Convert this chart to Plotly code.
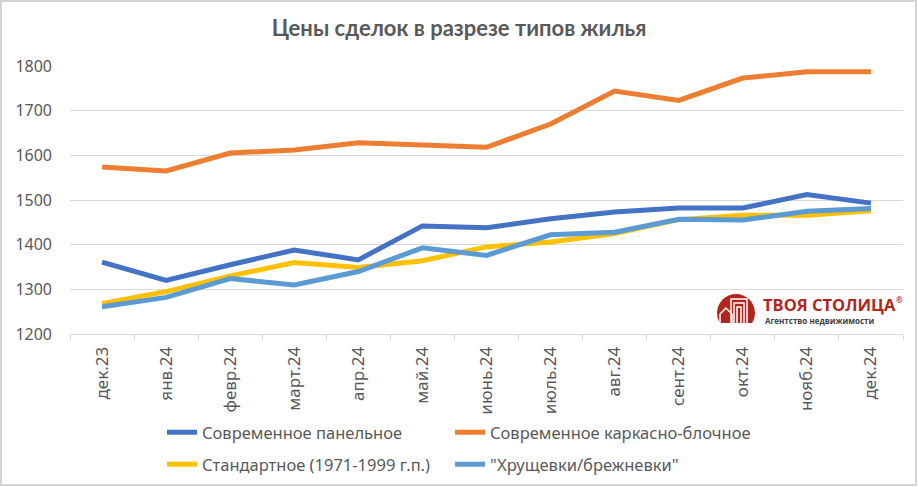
import plotly.graph_objects as go

months = ["дек.23", "янв.24", "февр.24", "март.24", "апр.24", "май.24", "июнь.24",
          "июль.24", "авг.24", "сент.24", "окт.24", "нояб.24", "дек.24"]

panel = [1361, 1320, 1355, 1388, 1366, 1442, 1438, 1458, 1473, 1482, 1482, 1512, 1493]
frame_block = [1574, 1565, 1605, 1612, 1628, 1623, 1618, 1670, 1744, 1723, 1773, 1787, 1787]
standard = [1268, 1295, 1330, 1360, 1349, 1364, 1395, 1406, 1425, 1456, 1466, 1466, 1476]
khrush = [1261, 1282, 1324, 1310, 1340, 1393, 1376, 1422, 1428, 1457, 1455, 1475, 1481]

names = ["Современное панельное", "Современное каркасно-блочное",
         "Стандартное (1971-1999 г.п.)", "\"Хрущевки/брежневки\""]
colors = ["#4472C4", "#ED7D31", "#FFC000", "#5B9BD5"]
series = [panel, frame_block, standard, khrush]
legend_ids = ["legend", "legend2", "legend3", "legend4"]

W, H = 918, 487
L, R, T, B = 70, 15, 66, 153
pw, ph = W - L - R, H - T - B

def px(x):
    return (x - L) / pw

def py(y):
    return (H - B - y) / ph

fig = go.Figure()
for n, c, s, lg in zip(names, colors, series, legend_ids):
    fig.add_trace(go.Scatter(x=months, y=s, name=n, mode="lines", legend=lg,
                             line=dict(color=c, width=5)))

font_main = "Noto Sans"
leg_common = dict(orientation="h", xanchor="left", yanchor="top",
                  font=dict(family=font_main, size=16.5, color="#595959"),
                  itemwidth=30, bgcolor="rgba(0,0,0,0)")
col1, col2 = 162, 450
row1, row2 = 415, 447
fig.update_layout(
    width=W, height=H,
    margin=dict(l=L, r=R, t=T, b=B, autoexpand=False),
    paper_bgcolor="white", plot_bgcolor="white",
    title=dict(text="<b>Цены сделок в разрезе типов жилья</b>", x=0.5, xanchor="center",
               y=1 - 28 / H, yanchor="middle",
               font=dict(family="Lato", size=22, color="#595959")),
    xaxis=dict(type="category", range=[-0.5, 12.5], showgrid=False, showline=True,
               linecolor="#D9D9D9", linewidth=1, ticks="outside", tickson="boundaries",
               ticklen=5, tickcolor="#D9D9D9", tickangle=-90, ticklabelstandoff=5,
               tickfont=dict(family=font_main, size=17, color="#595959")),
    yaxis=dict(range=[1200, 1800], dtick=100, showgrid=True, gridcolor="#D9D9D9",
               gridwidth=1, zeroline=False, showline=False, ticks="",
               ticklabelstandoff=17,
               tickfont=dict(family=font_main, size=16, color="#595959")),
    legend=dict(x=px(col1), y=py(row1), **leg_common),
    legend2=dict(x=px(col2), y=py(row1), **leg_common),
    legend3=dict(x=px(col1), y=py(row2), **leg_common),
    legend4=dict(x=px(col2), y=py(row2), **leg_common),
    showlegend=True,
)

shapes = []
# outer frame
shapes.append(dict(type="rect", xref="paper", yref="paper", x0=px(1), x1=px(916),
                   y0=py(485), y1=py(1), line=dict(color="#D4D4D4", width=2),
                   fillcolor="rgba(0,0,0,0)", layer="above"))
# logo circle
cx, cy, r = 736, 313, 19
shapes.append(dict(type="circle", xref="paper", yref="paper", x0=px(cx - r), x1=px(cx + r),
                   y0=py(cy + r), y1=py(cy - r), line=dict(width=0), fillcolor="#B3261E",
                   layer="above"))
shapes.append(dict(type="rect", xref="paper", yref="paper", x0=px(cx - r - 2), x1=px(cx + r + 2),
                   y0=py(332), y1=py(323), line=dict(width=0), fillcolor="white",
                   layer="above"))
# building strokes
for (x0, x1, ytop) in [(731, 747, 299), (734, 744, 303), (737, 741, 307)]:
    path = f"M {px(x0)} {py(323)} L {px(x0)} {py(ytop)} L {px(x1)} {py(ytop)} L {px(x1)} {py(323)}"
    shapes.append(dict(type="path", xref="paper", yref="paper", path=path,
                       line=dict(color="white", width=1.5), layer="above"))
path = f"M {px(720)} {py(323)} L {px(720)} {py(314)} L {px(726)} {py(308)} L {px(732)} {py(314)} L {px(732)} {py(323)}"
shapes.append(dict(type="path", xref="paper", yref="paper", path=path,
                   line=dict(color="white", width=1.5), layer="above"))
fig.update_layout(shapes=shapes)

fig.add_annotation(text="<b>ТВОЯ СТОЛИЦА</b>", xref="paper", yref="paper",
                   x=px(761), y=py(304), xanchor="left", yanchor="middle", showarrow=False,
                   font=dict(family="Open Sans", size=16.5, color="#B3261E"))
fig.add_annotation(text="<b>®</b>", xref="paper", yref="paper",
                   x=px(894), y=py(299), xanchor="left", yanchor="middle", showarrow=False,
                   font=dict(family="Open Sans", size=8, color="#B3261E"))
fig.add_annotation(text="<b>Агентство недвижимости</b>", xref="paper", yref="paper",
                   x=px(763), y=py(320.5), xanchor="left", yanchor="middle", showarrow=False,
                   font=dict(family="Open Sans", size=8, color="#404040"))

fig.write_html("out.html", post_script="document.body.style.margin='0';",
               config={"displayModeBar": False})
